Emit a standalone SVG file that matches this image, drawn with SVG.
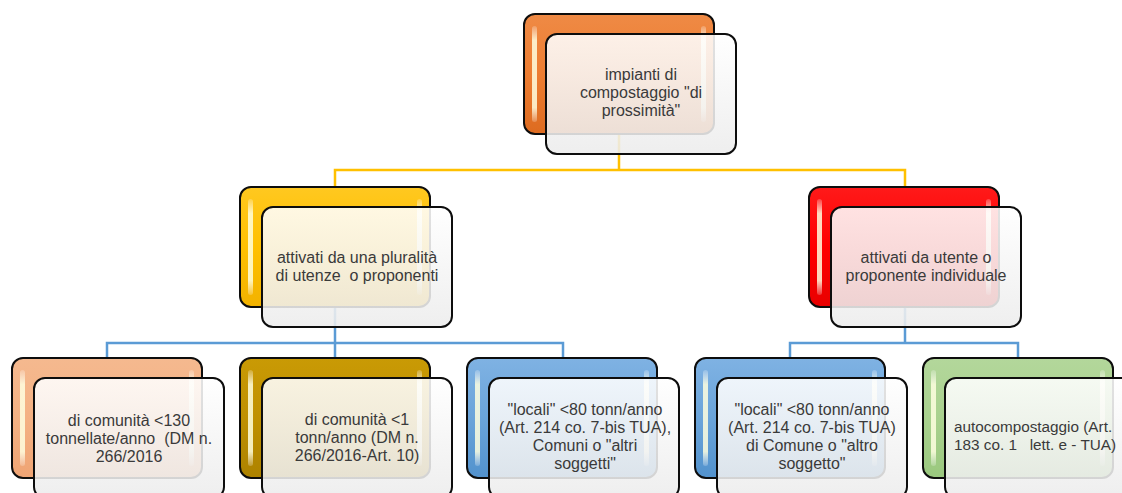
<svg xmlns="http://www.w3.org/2000/svg" width="1122" height="493" viewBox="0 0 1122 493">
  <style>
    .back { stroke: #0d0d0d; stroke-width: 2; }
    .front { fill: url(#gFront); fill-opacity: 0.88; stroke: #0d0d0d; stroke-width: 2; }
    .hl { fill: url(#gHl); }
    .lbl { font-family: "Liberation Sans", Arial, sans-serif; font-size: 16px; fill: #3a3a3a; text-anchor: middle; white-space: pre; }
    .lblL { text-anchor: start; font-size: 15.3px; }
    .conY { fill: none; stroke: #ffc000; stroke-width: 2.5; }
    .conB { fill: none; stroke: #5b9bd5; stroke-width: 2.5; }
  </style>
  <defs>
    <linearGradient id="gFront" x1="0" y1="0" x2="0" y2="1">
      <stop offset="0" stop-color="#ffffff"/>
      <stop offset="1" stop-color="#ececec"/>
    </linearGradient>
    <linearGradient id="gHl" x1="0" y1="0" x2="0" y2="1">
      <stop offset="0" stop-color="#ffffff" stop-opacity="0.2"/>
      <stop offset="0.15" stop-color="#ffffe0" stop-opacity="0.85"/>
      <stop offset="0.85" stop-color="#ffffe0" stop-opacity="0.85"/>
      <stop offset="1" stop-color="#ffffff" stop-opacity="0.2"/>
    </linearGradient>
    <linearGradient id="gOrange" x1="0" y1="0" x2="0" y2="1">
      <stop offset="0" stop-color="#ef8a45"/>
      <stop offset="0.5" stop-color="#ed7d31"/>
      <stop offset="1" stop-color="#dd6b20"/>
    </linearGradient>
    <linearGradient id="gGold" x1="0" y1="0" x2="0" y2="1">
      <stop offset="0" stop-color="#ffc820"/>
      <stop offset="0.5" stop-color="#ffc000"/>
      <stop offset="1" stop-color="#f2b200"/>
    </linearGradient>
    <linearGradient id="gRed" x1="0" y1="0" x2="0" y2="1">
      <stop offset="0" stop-color="#ff1a1a"/>
      <stop offset="0.5" stop-color="#ff0000"/>
      <stop offset="1" stop-color="#e80000"/>
    </linearGradient>
    <linearGradient id="gPeach" x1="0" y1="0" x2="0" y2="1">
      <stop offset="0" stop-color="#f5b98f"/>
      <stop offset="0.5" stop-color="#f4b183"/>
      <stop offset="1" stop-color="#efa474"/>
    </linearGradient>
    <linearGradient id="gOlive" x1="0" y1="0" x2="0" y2="1">
      <stop offset="0" stop-color="#c99a05"/>
      <stop offset="0.5" stop-color="#bf9000"/>
      <stop offset="1" stop-color="#ad8200"/>
    </linearGradient>
    <linearGradient id="gBlue" x1="0" y1="0" x2="0" y2="1">
      <stop offset="0" stop-color="#7fb2e3"/>
      <stop offset="0.5" stop-color="#6aa4da"/>
      <stop offset="1" stop-color="#5292cd"/>
    </linearGradient>
    <linearGradient id="gGreen" x1="0" y1="0" x2="0" y2="1">
      <stop offset="0" stop-color="#b3d79b"/>
      <stop offset="0.5" stop-color="#a9d18e"/>
      <stop offset="1" stop-color="#9ac87e"/>
    </linearGradient>
  </defs>

  <!-- connectors -->
  <g id="connectors">
    <path class="conY" d="M619,74 V170 H335 V187 M619,170 H905 V187"/>
    <path class="conB" d="M335,247 V358 M107,358 V343 H563 V358"/>
    <path class="conB" d="M905,247 V343 H790 V358 M905,343 H1018 V358"/>
  </g>

  <!-- root -->
  <g id="node-root">
    <rect class="back" x="524" y="14" width="190" height="120" rx="11" fill="url(#gOrange)"/>
    <rect class="hl" x="532" y="26" width="5" height="96" rx="2.5"/>
    <rect class="hl" x="701" y="26" width="5" height="96" rx="2.5"/>
    <rect class="front" x="546" y="34" width="190" height="120" rx="11"/>
    <text class="lbl" x="641" y="80">impianti di</text>
    <text class="lbl" x="641" y="98">compostaggio "di</text>
    <text class="lbl" x="641" y="116">prossimità"</text>
  </g>

  <g id="node-plural">
    <rect class="back" x="240" y="187" width="190" height="120" rx="11" fill="url(#gGold)"/>
    <rect class="hl" x="248" y="199" width="5" height="96" rx="2.5"/>
    <rect class="hl" x="417" y="199" width="5" height="96" rx="2.5"/>
    <rect class="front" x="262" y="207" width="190" height="120" rx="11"/>
    <text class="lbl" x="357" y="263">attivati da una pluralità</text>
    <text class="lbl" x="357" y="281">di utenze  o proponenti</text>
  </g>

  <g id="node-individual">
    <rect class="back" x="809" y="187" width="190" height="120" rx="11" fill="url(#gRed)"/>
    <rect class="hl" x="817" y="199" width="5" height="96" rx="2.5"/>
    <rect class="hl" x="986" y="199" width="5" height="96" rx="2.5"/>
    <rect class="front" x="831" y="207" width="190" height="120" rx="11"/>
    <text class="lbl" x="926" y="263">attivati da utente o</text>
    <text class="lbl" x="926" y="281">proponente individuale</text>
  </g>

  <g id="node-community130">
    <rect class="back" x="12" y="358" width="190" height="120" rx="11" fill="url(#gPeach)"/>
    <rect class="hl" x="20" y="370" width="5" height="96" rx="2.5"/>
    <rect class="hl" x="189" y="370" width="5" height="96" rx="2.5"/>
    <rect class="front" x="34" y="378" width="190" height="120" rx="11"/>
    <text class="lbl" x="129" y="426">di comunità &lt;130</text>
    <text class="lbl" x="129" y="444">tonnellate/anno  (DM n.</text>
    <text class="lbl" x="129" y="462">266/2016</text>
  </g>

  <g id="node-community1">
    <rect class="back" x="240" y="358" width="190" height="120" rx="11" fill="url(#gOlive)"/>
    <rect class="hl" x="248" y="370" width="5" height="96" rx="2.5"/>
    <rect class="hl" x="417" y="370" width="5" height="96" rx="2.5"/>
    <rect class="front" x="262" y="378" width="190" height="120" rx="11"/>
    <text class="lbl" x="357" y="425">di comunità &lt;1</text>
    <text class="lbl" x="357" y="443">tonn/anno (DM n.</text>
    <text class="lbl" x="357" y="461">266/2016-Art. 10)</text>
  </g>

  <g id="node-local-plural">
    <rect class="back" x="467" y="358" width="190" height="120" rx="11" fill="url(#gBlue)"/>
    <rect class="hl" x="475" y="370" width="5" height="96" rx="2.5"/>
    <rect class="hl" x="644" y="370" width="5" height="96" rx="2.5"/>
    <rect class="front" x="489" y="378" width="190" height="120" rx="11"/>
    <text class="lbl" x="585" y="415">"locali" &lt;80 tonn/anno</text>
    <text class="lbl" x="585" y="433">(Art. 214 co. 7-bis TUA),</text>
    <text class="lbl" x="585" y="451">Comuni o "altri</text>
    <text class="lbl" x="585" y="469">soggetti"</text>
  </g>

  <g id="node-local-single">
    <rect class="back" x="695" y="358" width="190" height="120" rx="11" fill="url(#gBlue)"/>
    <rect class="hl" x="703" y="370" width="5" height="96" rx="2.5"/>
    <rect class="hl" x="872" y="370" width="5" height="96" rx="2.5"/>
    <rect class="front" x="717" y="378" width="190" height="120" rx="11"/>
    <text class="lbl" x="812" y="415">"locali" &lt;80 tonn/anno</text>
    <text class="lbl" x="812" y="433">(Art. 214 co. 7-bis TUA)</text>
    <text class="lbl" x="812" y="451">di Comune o "altro</text>
    <text class="lbl" x="812" y="469">soggetto"</text>
  </g>

  <g id="node-self">
    <rect class="back" x="923" y="358" width="190" height="120" rx="11" fill="url(#gGreen)"/>
    <rect class="hl" x="931" y="370" width="5" height="96" rx="2.5"/>
    <rect class="hl" x="1100" y="370" width="5" height="96" rx="2.5"/>
    <rect class="front" x="945" y="378" width="190" height="120" rx="11"/>
    <text class="lbl lblL" x="954" y="432">autocompostaggio (Art.</text>
    <text class="lbl lblL" x="954" y="450">183 co. 1   lett. e - TUA)</text>
  </g>
</svg>
